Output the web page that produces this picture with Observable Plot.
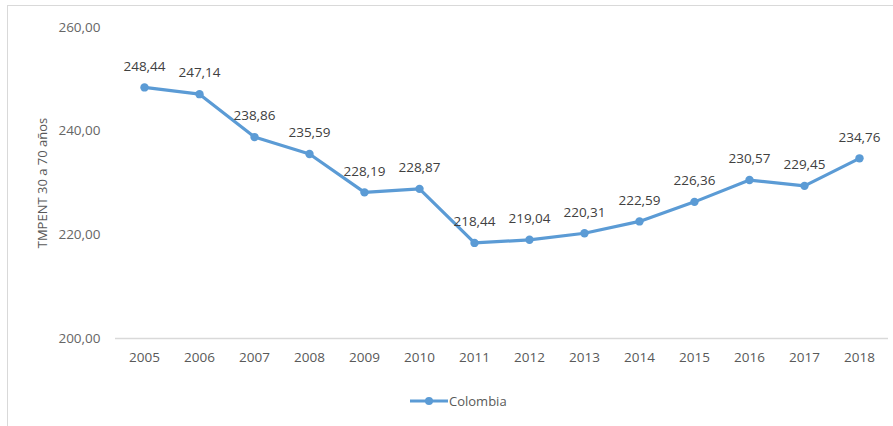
<!DOCTYPE html>
<html>
<head>
<meta charset="utf-8">
<script src="https://cdn.jsdelivr.net/npm/d3@7"></script>
<script src="https://cdn.jsdelivr.net/npm/@observablehq/plot@0.6"></script>
<style>
  html, body { margin: 0; padding: 0; background: #fff; }
  #wrap { position: relative; width: 893px; height: 426px; overflow: hidden; font-family: "Open Sans", "Liberation Sans", sans-serif; }
  #frame { position: absolute; left: 7px; top: 5px; width: 886px; height: 430px; border-left: 1px solid #d9d9d9; border-top: 1px solid #d9d9d9; box-sizing: border-box; }
  #chart { position: absolute; left: 0; top: 0; }
  #legend { position: absolute; left: 410px; top: 392px; display: flex; align-items: center; font-size: 13px; color: #595959; }
  #legend svg { display: block; }
</style>
</head>
<body>
<div id="wrap">
  <div id="frame"></div>
  <div id="chart"></div>
  <div id="legend"></div>
</div>
<script>
const years = ["2005","2006","2007","2008","2009","2010","2011","2012","2013","2014","2015","2016","2017","2018"];
const values = [248.44, 247.14, 238.86, 235.59, 228.19, 228.87, 218.44, 219.04, 220.31, 222.59, 226.36, 230.57, 229.45, 234.76];
const yTicks = [200, 220, 240, 260];
const seriesName = "Colombia";
const yLabel = "TMPENT 30 a 70 años";

const data = years.map((y, i) => ({year: y, value: values[i]}));
const fmt = v => v.toFixed(2).replace(".", ",");
const color = "#5b9bd5";

const chart = Plot.plot({
  width: 893,
  height: 385,
  marginTop: 27,
  marginBottom: 47,
  marginLeft: 115,
  marginRight: 5,
  style: {fontFamily: "'Open Sans', 'Liberation Sans', sans-serif", fontSize: "12px", color: "#595959", background: "transparent"},
  x: {type: "point", domain: years, padding: 0.5, label: null},
  y: {domain: [200, 260], ticks: yTicks, label: null},
  marks: [
    Plot.ruleY([200], {stroke: "#d9d9d9", strokeWidth: 1.5}),
    Plot.axisY({ticks: yTicks, tickSize: 0, tickPadding: 15, tickFormat: fmt, fill: "#666666", fontSize: 13.5}),
    Plot.axisX({tickSize: 0, tickPadding: 14, fill: "#595959", fontSize: 13.5}),
    Plot.text([yLabel], {frameAnchor: "left", rotate: -90, dx: -73, fill: "#595959", fontSize: 13, textAnchor: "middle"}),
    Plot.line(data, {x: "year", y: "value", stroke: color, strokeWidth: 3.2}),
    Plot.dot(data, {x: "year", y: "value", fill: color, r: 4.2}),
    Plot.text(data, {x: "year", y: "value", text: d => fmt(d.value), dy: -21, fill: "#404040", fontSize: 13.5})
  ]
});
document.getElementById("chart").appendChild(chart);

const leg = document.getElementById("legend");
leg.innerHTML = `<svg width="38" height="12"><line x1="0" y1="6" x2="38" y2="6" stroke="${color}" stroke-width="3.2"/><circle cx="19" cy="6" r="4" fill="${color}"/></svg><span style="margin-left:1px">${seriesName}</span>`;
</script>
</body>
</html>
